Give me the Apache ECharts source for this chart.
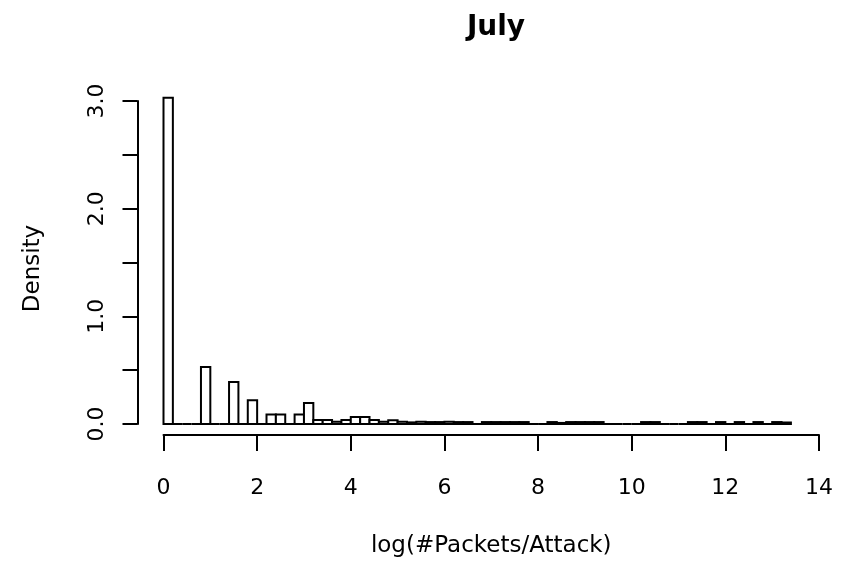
<!DOCTYPE html>
<html>
<head>
<meta charset="utf-8">
<script src="https://cdn.jsdelivr.net/npm/echarts@6/dist/echarts.min.js"></script>
<style>
  html, body { margin: 0; padding: 0; background: #ffffff; }
  #chart { width: 854px; height: 563px; }
</style>
</head>
<body>
<div id="chart"></div>
<script>
// Histogram of log(#Packets/Attack) for July, bins of width 0.2 starting at 0
const binStart = 0;
const binWidth = 0.2;
const densities = [
  3.03, 0, 0, 0, 0.53, 0, 0, 0.39, 0, 0.22,
  0, 0.088, 0.088, 0, 0.088, 0.196, 0.037, 0.037, 0.02, 0.037,
  0.065, 0.065, 0.037, 0.02, 0.035, 0.02, 0.015, 0.02, 0.018, 0.018,
  0.02, 0.018, 0.018, 0, 0.018, 0.018, 0.018, 0.018, 0.018, 0,
  0, 0.018, 0.01, 0.018, 0.018, 0.018, 0.018, 0, 0, 0,
  0, 0.018, 0.018, 0, 0, 0, 0.018, 0.018, 0, 0.018,
  0, 0.018, 0, 0.018, 0, 0.018, 0.014
];
const xTicks = [0, 2, 4, 6, 8, 10, 12, 14];
const yTickLabels = ['0.0', '1.0', '2.0', '3.0'];

const titleText = 'July';
const xTitle = 'log(#Packets/Attack)';
const yTitle = 'Density';

// [left edge, right edge, density] per bin
const bins = densities.map((d, i) => [
  +(binStart + i * binWidth).toFixed(2),
  +(binStart + (i + 1) * binWidth).toFixed(2),
  d
]);

const font = '"DejaVu Sans", "Liberation Sans", sans-serif';

const chart = echarts.init(document.getElementById('chart'), null, { renderer: 'canvas' });

chart.setOption({
  backgroundColor: '#ffffff',
  animation: false,
  title: {
    text: titleText,
    left: 491,
    textAlign: 'center',
    top: 9,
    textStyle: { fontFamily: font, fontWeight: 'bold', fontSize: 28, color: '#000' }
  },
  grid: { left: 163.5, right: 35, top: 101, bottom: 136, containLabel: false },
  xAxis: {
    type: 'value',
    min: 0,
    max: 14,
    interval: 2,
    offset: 11,
    name: xTitle,
    nameLocation: 'middle',
    nameGap: 100,
    nameTextStyle: { fontFamily: font, fontSize: 23, color: '#000' },
    axisLine: { show: true, onZero: false, lineStyle: { color: '#000', width: 2 } },
    axisTick: { show: true, length: 16, lineStyle: { color: '#000', width: 2 } },
    axisLabel: {
      fontFamily: font, fontSize: 22, color: '#000', margin: 42,
      formatter: v => xTicks.indexOf(v) >= 0 ? String(v) : ''
    },
    splitLine: { show: false }
  },
  yAxis: {
    type: 'value',
    min: 0,
    max: 3,
    interval: 0.5,
    offset: 26,
    name: yTitle,
    nameLocation: 'middle',
    nameGap: 93,
    nameTextStyle: { fontFamily: font, fontSize: 23, color: '#000', padding: [0, 12, 0, 0] },
    axisLine: { show: true, onZero: false, lineStyle: { color: '#000', width: 2 } },
    axisTick: { show: true, length: 15, lineStyle: { color: '#000', width: 2 } },
    axisLabel: {
      fontFamily: font, fontSize: 22, color: '#000', margin: 29, rotate: 90,
      formatter: v => (Math.abs(v - Math.round(v)) < 1e-9) ? yTickLabels[Math.round(v)] : ''
    },
    splitLine: { show: false }
  },
  series: [{
    type: 'custom',
    clip: false,
    data: bins,
    encode: { x: [0, 1], y: 2 },
    renderItem: function (params, api) {
      const x0 = api.value(0), x1 = api.value(1), d = api.value(2);
      const top = api.coord([x0, d]);
      const base = api.coord([x1, 0]);
      if (d === 0) {
        return {
          type: 'line',
          shape: { x1: top[0], y1: base[1], x2: base[0], y2: base[1] },
          style: { stroke: '#000', lineWidth: 2 }
        };
      }
      return {
        type: 'rect',
        shape: { x: top[0], y: top[1], width: base[0] - top[0], height: base[1] - top[1] },
        style: { fill: '#ffffff', stroke: '#000', lineWidth: 2 }
      };
    }
  }]
});
</script>
</body>
</html>
